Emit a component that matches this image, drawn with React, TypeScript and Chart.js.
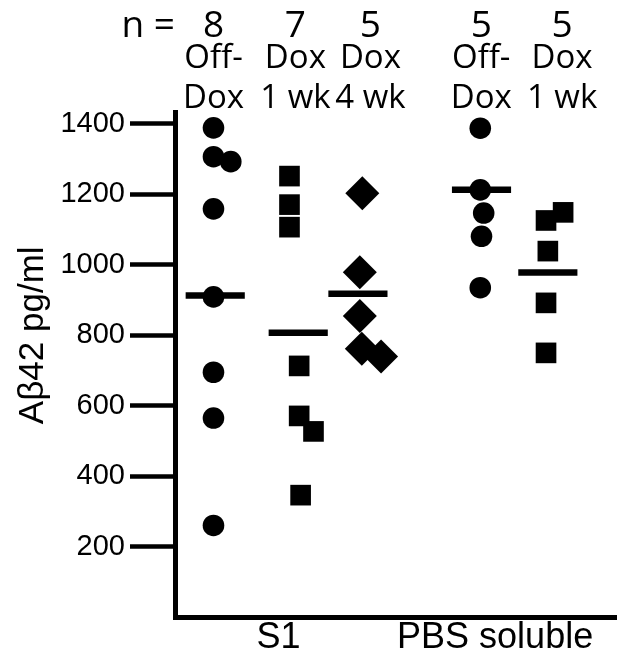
import React, { useEffect, useRef } from "react";
import { Chart, registerables } from "chart.js";

Chart.register(...registerables);

// ---- data ----
const groupCounts = [8, 7, 5, 5, 5];
const groupLabels = [
  ["Off-", "Dox"],
  ["Dox", "1 wk"],
  ["Dox", "4 wk"],
  ["Off-", "Dox"],
  ["Dox", "1 wk"],
];
const groupX = [1, 2.141, 2.962, 4.661, 5.573];
const headerX = [0.977, 2.102, 3.134, 4.657, 5.769];

const offDoxS1 = [1389, 1307, 1293, 1159, 909, 695, 565, 260];
const offDoxS1Jitter = [-0.024, -0.024, 0.214, -0.024, -0.024, -0.024, -0.024, -0.024];
const dox1wkS1 = [1252, 1171, 1107, 713, 571, 527, 346];
const dox1wkS1Jitter = [-0.12, -0.12, -0.12, 0.013, 0.013, 0.21, 0.033];
const dox4wkS1 = [1203, 979, 855, 762, 740];
const dox4wkS1Jitter = [0.06, 0.026, 0.026, 0.053, 0.318];
const offDoxPBS = [1388, 1213, 1147, 1081, 935];
const offDoxPBSJitter = [-0.017, -0.017, 0.03, 0, -0.017];
const dox1wkPBS = [1149, 1126, 1039, 892, 750];
const dox1wkPBSJitter = [0.21, -0.025, 0, -0.025, -0.025];

const groupMedians = [913, 807, 918, 1213, 978];
const medianHalfWidth = 0.4066;

const yTicks = [200, 400, 600, 800, 1000, 1200, 1400];
const sectionLabels = ["S1", "PBS soluble"];
const sectionX = [1.87, 4.848];
const yTitle = "Aβ42 pg/ml";

const SANS = '"Liberation Sans", Arial, sans-serif';
const HEAD = '"Open Sans", "Noto Sans", sans-serif';

const headerPlugin = {
  id: "header",
  afterDraw(chart: any) {
    const { ctx, chartArea, scales } = chart;
    const xs = scales.x;
    const ys = scales.y;
    ctx.save();
    ctx.fillStyle = "#000";
    // n row
    ctx.font = `37px ${HEAD}`;
    ctx.textBaseline = "alphabetic";
    ctx.textAlign = "right";
    ctx.fillText("n =", chartArea.left, chartArea.top - 75);
    ctx.textAlign = "center";
    groupCounts.forEach((n, i) => {
      ctx.fillText(String(n), xs.getPixelForValue(headerX[i]), chartArea.top - 75);
    });
    ctx.font = `33px ${HEAD}`;
    groupLabels.forEach((lines, i) => {
      const px = xs.getPixelForValue(headerX[i]);
      ctx.fillText(lines[0], px, chartArea.top - 44.5);
      ctx.fillText(lines[1], px, chartArea.top - 4.5);
    });
    // y title
    const cy = (ys.getPixelForValue(yTicks[0]) + ys.getPixelForValue(yTicks[yTicks.length - 1])) / 2;
    ctx.translate(43, cy);
    ctx.rotate(-Math.PI / 2);
    ctx.font = `35px ${SANS}`;
    ctx.textAlign = "center";
    ctx.fillText(yTitle, 0, 0);
    ctx.restore();
  },
};

function pointsFor(g: number, values: number[], jitter: number[]) {
  return values.map((v, i) => ({ x: groupX[g] + jitter[i], y: v }));
}

export default function App() {
  const ref = useRef<HTMLCanvasElement | null>(null);
  useEffect(() => {
    if (!ref.current) return;
    const series = [
      { values: offDoxS1, jitter: offDoxS1Jitter, style: "circle", r: 10.8 },
      { values: dox1wkS1, jitter: dox1wkS1Jitter, style: "rect", r: 14.6 },
      { values: dox4wkS1, jitter: dox4wkS1Jitter, style: "rectRot", r: 17 },
      { values: offDoxPBS, jitter: offDoxPBSJitter, style: "circle", r: 10.8 },
      { values: dox1wkPBS, jitter: dox1wkPBSJitter, style: "rect", r: 14.6 },
    ];
    const datasets: any[] = series.map((s, g) => ({
      data: pointsFor(g, s.values, s.jitter),
      pointStyle: s.style,
      pointRadius: s.r,
      pointBorderWidth: 0,
      backgroundColor: "#000",
      borderColor: "#000",
      showLine: false,
    }));
    groupMedians.forEach((m, g) => {
      datasets.push({
        data: [
          { x: groupX[g] - medianHalfWidth, y: m },
          { x: groupX[g] + medianHalfWidth, y: m },
        ],
        showLine: true,
        borderColor: "#000",
        borderWidth: 6.5,
        borderCapStyle: "butt",
        pointRadius: 0,
      });
    });
    const chart = new Chart(ref.current, {
      type: "scatter",
      data: { datasets },
      options: {
        animation: false,
        responsive: false,
        layout: { padding: { top: 112, left: 0, right: 0, bottom: 0 } },
        plugins: { legend: { display: false }, tooltip: { enabled: false } },
        scales: {
          x: {
            type: "linear",
            position: "bottom",
            min: 0.447,
            max: 6.51,
            afterBuildTicks: (s: any) => {
              s.ticks = sectionX.map((v) => ({ value: v }));
            },
            afterFit: (s: any) => {
              s.height = 44;
            },
            grid: { display: false, drawTicks: false },
            border: { display: true, color: "#000", width: 5 },
            ticks: {
              autoSkip: false,
              maxRotation: 0,
              minRotation: 0,
              padding: 3.5,
              color: "#000",
              font: { family: SANS, size: 36, lineHeight: 1 },
              callback: (_v: any, i: number) => sectionLabels[i],
            },
          },
          y: {
            type: "linear",
            min: 0,
            max: 1434,
            afterBuildTicks: (s: any) => {
              s.ticks = yTicks.map((v) => ({ value: v }));
            },
            afterFit: (s: any) => {
              s.width = 175;
            },
            grid: {
              display: true,
              drawOnChartArea: false,
              drawTicks: true,
              tickLength: 45,
              tickWidth: 4.3,
              tickColor: "#000",
            },
            border: { display: true, color: "#000", width: 5 },
            ticks: {
              padding: 5,
              color: "#000",
              font: { family: SANS, size: 29 },
              callback: (v: any) => String(v),
            },
          },
        },
      },
      plugins: [headerPlugin],
    } as any);
    return () => chart.destroy();
  }, []);
  return (
    <div style={{ position: "fixed", left: 0, top: 0, width: 633, height: 661, background: "#fff" }}>
      <canvas ref={ref} width={633} height={661} style={{ display: "block" }} />
    </div>
  );
}
